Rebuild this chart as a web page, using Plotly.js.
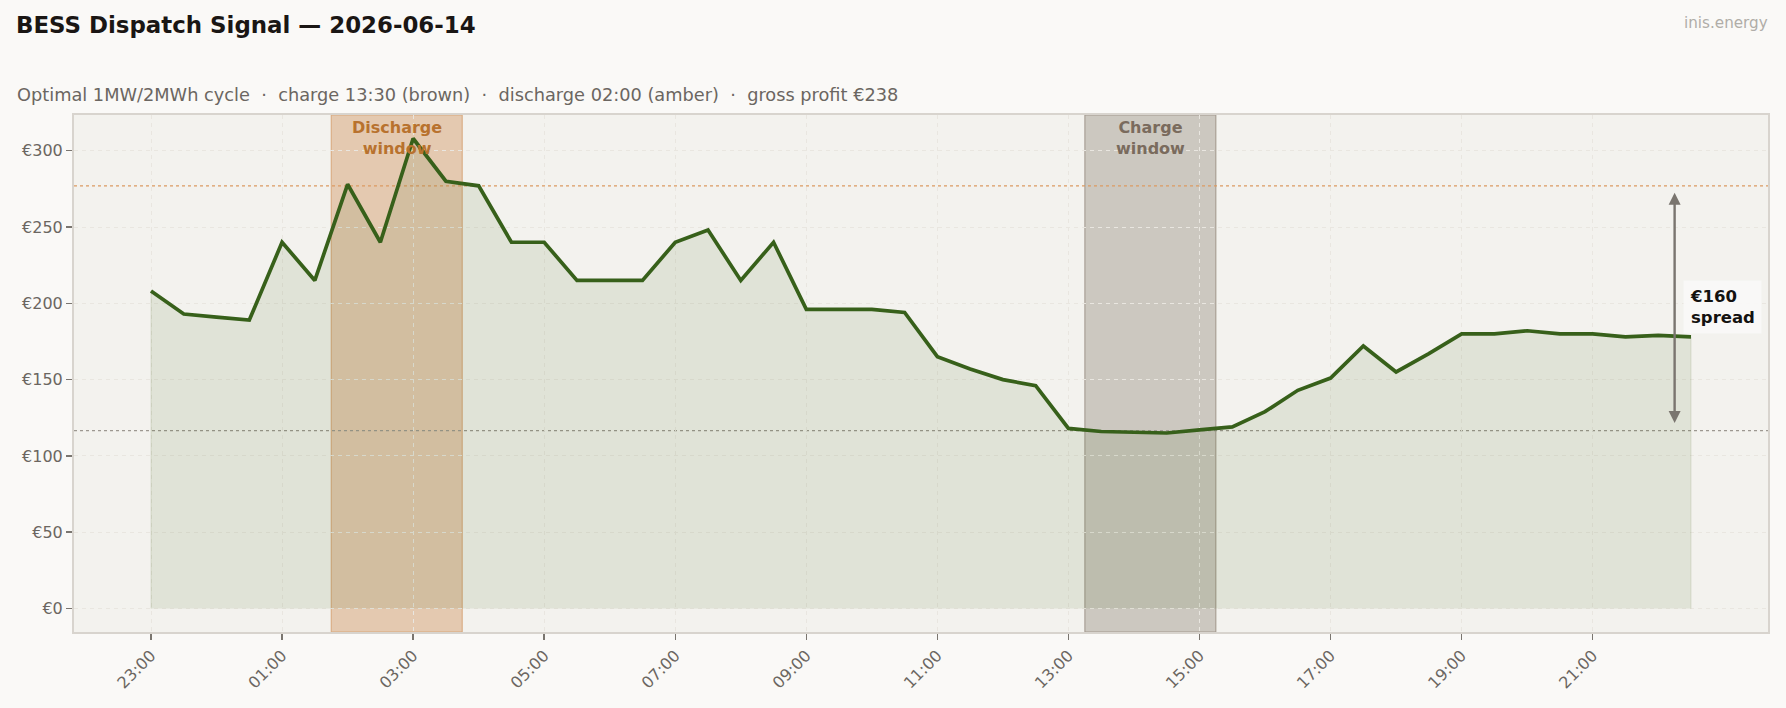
<!DOCTYPE html>
<html>
<head>
<meta charset="utf-8">
<script src="https://cdn.plot.ly/plotly-3.0.1.min.js"></script>
<style>html,body{margin:0;padding:0;background:#faf9f7;}#chart{width:1786px;height:708px;}</style>
</head>
<body>
<div id="chart"></div>
<script>
// ---- data ----
const times = [
  '2026-06-13 23:00','2026-06-13 23:30','2026-06-14 00:00','2026-06-14 00:30',
  '2026-06-14 01:00','2026-06-14 01:30','2026-06-14 02:00','2026-06-14 02:30',
  '2026-06-14 03:00','2026-06-14 03:30','2026-06-14 04:00','2026-06-14 04:30',
  '2026-06-14 05:00','2026-06-14 05:30','2026-06-14 06:00','2026-06-14 06:30',
  '2026-06-14 07:00','2026-06-14 07:30','2026-06-14 08:00','2026-06-14 08:30',
  '2026-06-14 09:00','2026-06-14 09:30','2026-06-14 10:00','2026-06-14 10:30',
  '2026-06-14 11:00','2026-06-14 11:30','2026-06-14 12:00','2026-06-14 12:30',
  '2026-06-14 13:00','2026-06-14 13:30','2026-06-14 14:00','2026-06-14 14:30',
  '2026-06-14 15:00','2026-06-14 15:30','2026-06-14 16:00','2026-06-14 16:30',
  '2026-06-14 17:00','2026-06-14 17:30','2026-06-14 18:00','2026-06-14 18:30',
  '2026-06-14 19:00','2026-06-14 19:30','2026-06-14 20:00','2026-06-14 20:30',
  '2026-06-14 21:00','2026-06-14 21:30','2026-06-14 22:00','2026-06-14 22:30'
];
const prices = [
  208,193,191,189,240,215,278,240,
  308,280,277,240,240,215,215,215,
  240,248,215,240,196,196,196,194,
  165,157,150,146,118,116,115.5,115,
  117,119,129,143,151,172,155,167,
  180,180,182,180,180,178,179,178
];
const xTickVals = [
  '2026-06-13 23:00','2026-06-14 01:00','2026-06-14 03:00','2026-06-14 05:00',
  '2026-06-14 07:00','2026-06-14 09:00','2026-06-14 11:00','2026-06-14 13:00',
  '2026-06-14 15:00','2026-06-14 17:00','2026-06-14 19:00','2026-06-14 21:00'
];
const xTickText = ['23:00','01:00','03:00','05:00','07:00','09:00','11:00','13:00','15:00','17:00','19:00','21:00'];
const yTicks = [0,50,100,150,200,250,300];
const yTickText = ['€0','€50','€100','€150','€200','€250','€300'];
const dischargeWindow = ['2026-06-14 01:45','2026-06-14 03:45'];
const chargeWindow = ['2026-06-14 13:15','2026-06-14 15:15'];
const highLevel = 277;
const lowLevel = 116.5;
const spreadLabel = '€160<br>spread';
const spreadTime = '2026-06-14 22:15';
const xRange = ['2026-06-13 21:49:30','2026-06-14 23:40:30'];
const yRange = [-15.4, 323.4];

const FONT = 'DejaVu Sans, sans-serif';

// fill polygon (closed to zero)
const fillX = [times[0]].concat(times, [times[times.length-1]]);
const fillY = [0].concat(prices, [0]);

const traces = [
  {x: fillX, y: fillY, type:'scatter', mode:'lines', fill:'toself',
   fillcolor:'rgba(58,95,20,0.10)', line:{color:'rgba(58,95,20,0.13)', width:1},
   hoverinfo:'skip', showlegend:false},
  {x: times, y: prices, type:'scatter', mode:'lines',
   line:{color:'#37601a', width:3.7}, hoverinfo:'skip', showlegend:false}
];

const layout = {
  width:1786, height:708,
  paper_bgcolor:'#faf9f7', plot_bgcolor:'#f3f2ee',
  margin:{l:74, r:18, t:115, b:76},
  font:{family:FONT, color:'#6b6661'},
  showlegend:false,
  title:{text:'<b>BESS Dispatch Signal — 2026-06-14</b>', xref:'container', yref:'container',
         x:16/1786, xanchor:'left', y:1-24.5/708, yanchor:'middle',
         font:{family:FONT, size:22.9, color:'#1a1614'}},
  xaxis:{type:'date', range:xRange, tickmode:'array', tickvals:xTickVals, ticktext:xTickText,
         tickangle:-45, ticks:'outside', ticklen:6, tickwidth:1.5,
         tickcolor:'#7a756f', tickfont:{size:16, color:'#6b6661'},
         showgrid:true, gridcolor:'#e9e6e0', griddash:'4px,4px', gridwidth:1,
         showline:true, linecolor:'#d8d4ce', linewidth:2, mirror:true, zeroline:false},
  yaxis:{range:yRange, tickmode:'array', tickvals:yTicks, ticktext:yTickText, ticks:'outside', ticklen:6,
         tickwidth:1.5, tickcolor:'#7a756f', tickfont:{size:16, color:'#6b6661'},
         showgrid:true, gridcolor:'#e9e6e0', griddash:'4px,4px', gridwidth:1,
         showline:true, linecolor:'#d8d4ce', linewidth:2, mirror:true, zeroline:false},
  shapes:[
    {type:'rect', xref:'x', yref:'paper', x0:dischargeWindow[0], x1:dischargeWindow[1], y0:0, y1:1,
     fillcolor:'rgba(200,125,60,0.35)', line:{color:'rgba(200,125,60,0.45)', width:1.2}, layer:'between'},
    {type:'rect', xref:'x', yref:'paper', x0:chargeWindow[0], x1:chargeWindow[1], y0:0, y1:1,
     fillcolor:'rgba(110,95,80,0.29)', line:{color:'rgba(110,95,80,0.45)', width:1.2}, layer:'between'},
    {type:'line', xref:'paper', yref:'y', x0:0, x1:1, y0:highLevel, y1:highLevel,
     line:{color:'#dc9a62', width:1.2, dash:'dot'}, layer:'between'},
    {type:'line', xref:'paper', yref:'y', x0:0, x1:1, y0:lowLevel, y1:lowLevel,
     line:{color:'#9d9891', width:1.2, dash:'dot'}, layer:'between'}
  ],
  annotations:[
    {text:'Optimal 1MW/2MWh cycle  ·  charge 13:30 (brown)  ·  discharge 02:00 (amber)  ·  gross profit €238',
     xref:'paper', yref:'paper', x:(15-74)/1694, xanchor:'left', y:(632-95)/517, yanchor:'middle',
     showarrow:false, font:{family:FONT, size:17.75, color:'#6b6661'}},
    {text:'inis.energy', xref:'paper', yref:'paper', x:(1770-74)/1694, xanchor:'right',
     y:(632-22.7)/517, yanchor:'middle', showarrow:false,
     font:{family:FONT, size:15.2, color:'#b0ada8'}},
    {text:'<b>Discharge<br>window</b>', xref:'x', yref:'paper', x:'2026-06-14 02:45', y:1,
     yanchor:'top', yshift:-1, showarrow:false, align:'center',
     font:{family:FONT, size:16, color:'#b8722e'}},
    {text:'<b>Charge<br>window</b>', xref:'x', yref:'paper', x:'2026-06-14 14:15', y:1,
     yanchor:'top', yshift:-1, showarrow:false, align:'center',
     font:{family:FONT, size:16, color:'#7a6b5d'}},
    {text:'', xref:'x', yref:'y', x:spreadTime, y:272.5, axref:'x', ayref:'y',
     ax:spreadTime, ay:120.5, showarrow:true, arrowside:'end+start', arrowhead:2,
     arrowsize:1, arrowwidth:2.4, arrowcolor:'#7a756f', standoff:0, startstandoff:0},
    {text:'<b>'+spreadLabel+'</b>', xref:'x', yref:'y', x:spreadTime, y:197.5,
     xanchor:'left', yanchor:'middle', xshift:8, showarrow:false, align:'left',
     bgcolor:'rgba(250,249,247,0.92)', borderpad:6,
     font:{family:FONT, size:16.5, color:'#141210'}}
  ]
};

Plotly.newPlot('chart', traces, layout, {displayModeBar:false, staticPlot:true});
</script>
</body>
</html>
